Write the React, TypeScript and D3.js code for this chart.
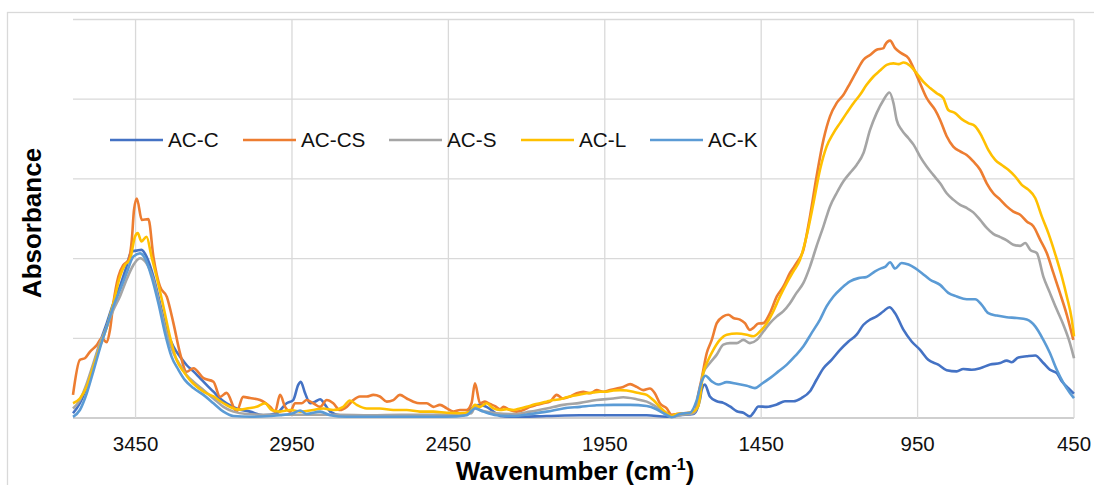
import React from "react";
import * as d3 from "d3";

type Pt = [number, number];

const xTicks = [3450, 2950, 2450, 1950, 1450, 950, 450];
const yGrid = [0, 0.2, 0.4, 0.6, 0.8, 1.0];

const acC: Pt[] = [[3650,0.012],[3628,0.037],[3606,0.079],[3585,0.129],[3564,0.188],[3542,0.238],[3521,0.288],[3500,0.330],[3479,0.380],[3463,0.418],[3447,0.420],[3431,0.422],[3415,0.405],[3393,0.355],[3372,0.288],[3351,0.221],[3329,0.179],[3308,0.154],[3287,0.133],[3265,0.117],[3244,0.100],[3223,0.083],[3201,0.066],[3180,0.049],[3159,0.037],[3127,0.024],[3084,0.016],[3042,0.007],[2999,0.012],[2967,0.037],[2946,0.045],[2930,0.083],[2922,0.091],[2908,0.062],[2892,0.037],[2876,0.041],[2860,0.047],[2844,0.033],[2828,0.016],[2797,0.007],[2722,0.005],[2615,0.005],[2509,0.005],[2402,0.007],[2370,0.028],[2349,0.033],[2328,0.028],[2306,0.016],[2285,0.005],[2242,0.003],[2136,0.005],[2029,0.007],[1923,0.007],[1816,0.007],[1752,0.003],[1710,0.007],[1667,0.010],[1656,0.020],[1646,0.045],[1640,0.071],[1630,0.084],[1614,0.054],[1592,0.042],[1571,0.038],[1550,0.029],[1528,0.017],[1507,0.013],[1486,0.004],[1475,0.013],[1459,0.029],[1432,0.028],[1400,0.034],[1374,0.042],[1347,0.042],[1321,0.050],[1294,0.067],[1273,0.096],[1251,0.125],[1225,0.146],[1198,0.171],[1171,0.192],[1145,0.209],[1123,0.234],[1102,0.247],[1081,0.255],[1059,0.268],[1040,0.278],[1022,0.263],[995,0.221],[969,0.192],[942,0.171],[916,0.146],[884,0.134],[857,0.120],[825,0.117],[804,0.123],[777,0.121],[750,0.125],[718,0.134],[686,0.138],[665,0.144],[649,0.140],[628,0.152],[601,0.155],[574,0.157],[548,0.138],[527,0.121],[505,0.113],[489,0.092],[468,0.075],[450,0.061]];

const acCS: Pt[] = [[3650,0.058],[3628,0.146],[3612,0.150],[3596,0.166],[3574,0.183],[3558,0.200],[3542,0.190],[3532,0.220],[3521,0.288],[3505,0.355],[3489,0.384],[3473,0.396],[3462,0.447],[3455,0.522],[3446,0.551],[3430,0.497],[3409,0.499],[3393,0.405],[3372,0.330],[3350,0.304],[3329,0.238],[3308,0.163],[3287,0.116],[3265,0.125],[3233,0.100],[3201,0.091],[3180,0.053],[3159,0.063],[3127,0.016],[3106,0.053],[3084,0.050],[3052,0.045],[3020,0.028],[3004,0.016],[2988,0.058],[2972,0.028],[2956,0.016],[2940,0.037],[2919,0.037],[2903,0.045],[2882,0.037],[2860,0.028],[2839,0.045],[2818,0.037],[2797,0.020],[2775,0.028],[2754,0.045],[2733,0.054],[2711,0.054],[2690,0.058],[2669,0.054],[2647,0.041],[2626,0.045],[2605,0.058],[2583,0.049],[2562,0.041],[2541,0.037],[2519,0.037],[2498,0.028],[2477,0.033],[2455,0.024],[2434,0.016],[2413,0.020],[2392,0.020],[2376,0.037],[2365,0.087],[2349,0.037],[2333,0.041],[2317,0.035],[2301,0.030],[2285,0.022],[2274,0.028],[2253,0.020],[2232,0.016],[2210,0.020],[2189,0.028],[2168,0.033],[2147,0.037],[2125,0.041],[2104,0.058],[2083,0.049],[2061,0.054],[2040,0.062],[2019,0.066],[1997,0.062],[1976,0.070],[1955,0.066],[1933,0.070],[1912,0.074],[1891,0.078],[1869,0.085],[1848,0.078],[1827,0.070],[1806,0.074],[1790,0.062],[1774,0.037],[1752,0.024],[1736,0.008],[1720,0.010],[1699,0.012],[1678,0.013],[1662,0.015],[1651,0.060],[1640,0.100],[1624,0.163],[1608,0.196],[1592,0.238],[1571,0.255],[1555,0.259],[1539,0.251],[1518,0.247],[1502,0.238],[1486,0.221],[1475,0.226],[1459,0.237],[1443,0.238],[1422,0.263],[1400,0.305],[1379,0.330],[1358,0.364],[1337,0.389],[1315,0.422],[1294,0.506],[1273,0.606],[1251,0.698],[1230,0.757],[1209,0.790],[1187,0.811],[1166,0.840],[1145,0.870],[1123,0.899],[1102,0.911],[1081,0.924],[1059,0.928],[1054,0.936],[1038,0.947],[1022,0.928],[1001,0.915],[979,0.903],[963,0.878],[942,0.840],[921,0.803],[894,0.773],[878,0.748],[857,0.707],[836,0.681],[814,0.669],[793,0.660],[772,0.644],[750,0.623],[729,0.589],[708,0.564],[686,0.548],[665,0.531],[644,0.518],[622,0.510],[601,0.493],[580,0.481],[558,0.447],[537,0.414],[516,0.364],[495,0.314],[473,0.259],[452,0.196]];

const acS: Pt[] = [[3650,0.024],[3628,0.045],[3606,0.087],[3585,0.137],[3564,0.188],[3542,0.229],[3521,0.271],[3500,0.305],[3479,0.347],[3457,0.384],[3436,0.401],[3415,0.388],[3393,0.347],[3372,0.280],[3351,0.213],[3329,0.163],[3308,0.133],[3287,0.108],[3265,0.091],[3233,0.070],[3201,0.049],[3169,0.028],[3137,0.016],[3095,0.010],[3020,0.008],[2900,0.008],[2800,0.008],[2700,0.007],[2600,0.008],[2500,0.008],[2400,0.010],[2376,0.012],[2365,0.028],[2349,0.020],[2296,0.012],[2242,0.010],[2189,0.016],[2136,0.024],[2083,0.033],[2029,0.038],[1976,0.045],[1923,0.049],[1891,0.052],[1848,0.047],[1816,0.041],[1785,0.028],[1752,0.012],[1736,0.003],[1710,0.007],[1667,0.012],[1651,0.038],[1635,0.113],[1614,0.138],[1592,0.159],[1571,0.184],[1550,0.188],[1528,0.188],[1507,0.196],[1486,0.188],[1464,0.196],[1443,0.217],[1422,0.238],[1400,0.255],[1379,0.268],[1358,0.288],[1337,0.314],[1315,0.339],[1294,0.380],[1273,0.431],[1251,0.481],[1230,0.531],[1209,0.564],[1187,0.594],[1166,0.615],[1145,0.635],[1123,0.665],[1102,0.723],[1081,0.765],[1059,0.798],[1040,0.817],[1027,0.790],[1017,0.748],[1001,0.723],[979,0.702],[963,0.686],[942,0.656],[921,0.631],[900,0.610],[878,0.589],[857,0.564],[836,0.548],[814,0.535],[793,0.527],[772,0.516],[750,0.497],[729,0.477],[708,0.462],[686,0.454],[665,0.446],[644,0.435],[622,0.432],[606,0.439],[590,0.422],[569,0.414],[548,0.355],[527,0.314],[505,0.272],[484,0.234],[463,0.188],[450,0.150]];

const acL: Pt[] = [[3650,0.037],[3628,0.049],[3606,0.079],[3585,0.129],[3564,0.179],[3542,0.229],[3521,0.288],[3500,0.355],[3484,0.384],[3468,0.397],[3452,0.455],[3443,0.464],[3431,0.443],[3415,0.455],[3399,0.405],[3383,0.355],[3361,0.280],[3340,0.204],[3319,0.146],[3297,0.117],[3276,0.095],[3255,0.079],[3233,0.066],[3201,0.054],[3169,0.037],[3137,0.024],[3116,0.021],[3095,0.024],[3063,0.028],[3036,0.037],[3015,0.020],[2988,0.016],[2956,0.020],[2924,0.016],[2882,0.020],[2850,0.024],[2818,0.020],[2786,0.028],[2765,0.044],[2743,0.033],[2711,0.024],[2669,0.024],[2626,0.020],[2583,0.020],[2541,0.016],[2498,0.016],[2455,0.013],[2413,0.012],[2381,0.016],[2365,0.033],[2349,0.028],[2328,0.037],[2306,0.024],[2285,0.020],[2264,0.022],[2242,0.020],[2221,0.024],[2200,0.028],[2179,0.033],[2157,0.037],[2136,0.041],[2115,0.045],[2093,0.047],[2072,0.052],[2051,0.056],[2029,0.059],[2008,0.062],[1987,0.064],[1965,0.066],[1944,0.066],[1923,0.069],[1901,0.070],[1880,0.069],[1859,0.066],[1838,0.062],[1816,0.058],[1795,0.045],[1774,0.028],[1752,0.012],[1736,0.005],[1720,0.010],[1688,0.012],[1667,0.016],[1651,0.030],[1635,0.113],[1619,0.146],[1603,0.171],[1582,0.196],[1560,0.209],[1528,0.212],[1496,0.209],[1475,0.205],[1454,0.217],[1432,0.238],[1411,0.268],[1390,0.305],[1368,0.339],[1347,0.368],[1326,0.397],[1305,0.456],[1283,0.539],[1262,0.623],[1241,0.681],[1219,0.715],[1198,0.740],[1177,0.765],[1155,0.790],[1134,0.811],[1113,0.836],[1091,0.857],[1070,0.872],[1049,0.886],[1027,0.890],[1011,0.888],[995,0.892],[974,0.884],[953,0.865],[932,0.844],[910,0.828],[889,0.815],[868,0.803],[852,0.773],[830,0.765],[809,0.750],[788,0.740],[766,0.732],[745,0.707],[724,0.673],[702,0.648],[681,0.635],[660,0.623],[638,0.606],[617,0.585],[596,0.573],[574,0.552],[553,0.506],[532,0.464],[511,0.414],[489,0.355],[473,0.305],[457,0.247],[450,0.205]];

const acK: Pt[] = [[3650,0.003],[3628,0.020],[3606,0.062],[3585,0.117],[3564,0.175],[3542,0.229],[3521,0.280],[3500,0.321],[3479,0.363],[3457,0.405],[3436,0.413],[3420,0.401],[3399,0.355],[3377,0.288],[3356,0.213],[3335,0.154],[3313,0.121],[3292,0.095],[3265,0.075],[3233,0.058],[3201,0.037],[3169,0.016],[3137,0.005],[3084,0.003],[3020,0.005],[2988,0.007],[2946,0.012],[2924,0.019],[2903,0.010],[2860,0.016],[2828,0.007],[2775,0.003],[2669,0.003],[2562,0.003],[2455,0.003],[2392,0.007],[2365,0.024],[2338,0.016],[2296,0.007],[2242,0.005],[2189,0.010],[2136,0.016],[2083,0.024],[2029,0.028],[1976,0.032],[1923,0.033],[1869,0.033],[1816,0.030],[1785,0.022],[1758,0.010],[1736,0.002],[1710,0.010],[1678,0.013],[1656,0.045],[1640,0.092],[1628,0.106],[1608,0.092],[1587,0.084],[1560,0.090],[1528,0.086],[1496,0.081],[1470,0.075],[1448,0.086],[1422,0.100],[1395,0.117],[1368,0.134],[1342,0.155],[1315,0.180],[1289,0.213],[1262,0.247],[1241,0.280],[1219,0.305],[1193,0.326],[1166,0.343],[1139,0.351],[1113,0.354],[1086,0.368],[1065,0.376],[1054,0.379],[1038,0.391],[1022,0.375],[1001,0.389],[979,0.385],[958,0.376],[937,0.364],[910,0.347],[878,0.334],[852,0.314],[825,0.305],[793,0.298],[766,0.298],[745,0.284],[724,0.263],[697,0.257],[665,0.253],[633,0.251],[601,0.247],[574,0.230],[548,0.196],[527,0.163],[505,0.121],[484,0.088],[463,0.063],[450,0.050]];

const seriesNames = ["AC-C", "AC-CS", "AC-S", "AC-L", "AC-K"];
const seriesColors = ["#4472C4", "#ED7D31", "#A5A5A5", "#FFC000", "#5B9BD5"];
const seriesData = [acC, acCS, acS, acL, acK];
const legendX = [110, 243, 389, 521, 650];

export default function App() {
  const x = d3.scaleLinear().domain([3650, 450]).range([73, 1074]);
  const y = d3.scaleLinear().domain([0, 1]).range([418, 19.5]);
  const line = d3
    .line<Pt>()
    .x((d) => x(d[0]))
    .y((d) => y(d[1]))
    .curve(d3.curveMonotoneX);
  const font = "'Liberation Sans', Arial, sans-serif";

  return (
    <svg
      width={1094}
      height={485}
      style={{ position: "absolute", left: 0, top: 0, background: "#fff" }}
      fontFamily={font}
    >
      <rect x={0} y={0} width={1094} height={485} fill="#fff" />
      <rect x={7.5} y={12.5} width={1300} height={600} fill="none" stroke="#D9D9D9" strokeWidth={1.3} />
      {yGrid.map((v) => (
        <line key={"h" + v} x1={73} x2={1074} y1={y(v)} y2={y(v)} stroke={v === 0 ? "#BFBFBF" : "#D9D9D9"} strokeWidth={1.3} />
      ))}
      {xTicks.map((t) => (
        <line key={"v" + t} x1={x(t)} x2={x(t)} y1={y(1)} y2={y(0)} stroke="#D9D9D9" strokeWidth={1.3} />
      ))}
      {xTicks.map((t) => (
        <text key={"t" + t} x={x(t)} y={451} textAnchor="middle" fontSize={20.5} fill="#111">
          {t}
        </text>
      ))}
      {seriesData.map((d, i) => (
        <path key={seriesNames[i]} d={line(d) || ""} fill="none" stroke={seriesColors[i]} strokeWidth={2.6} strokeLinejoin="round" />
      ))}
      {seriesNames.map((n, i) => (
        <g key={"lg" + n}>
          <line x1={legendX[i]} x2={legendX[i] + 53} y1={140} y2={140} stroke={seriesColors[i]} strokeWidth={2.6} />
          <text x={legendX[i] + 58} y={147.3} fontSize={20.7} fill="#111">
            {n}
          </text>
        </g>
      ))}
      <text x={575} y={480} textAnchor="middle" fontSize={26} fontWeight="bold" fill="#000">
        Wavenumber (cm
        <tspan dy={-10} fontSize={16}>-1</tspan>
        <tspan dy={10} fontSize={26}>)</tspan>
      </text>
      <text transform="translate(41,223) rotate(-90)" textAnchor="middle" fontSize={26} fontWeight="bold" fill="#000">
        Absorbance
      </text>
    </svg>
  );
}
